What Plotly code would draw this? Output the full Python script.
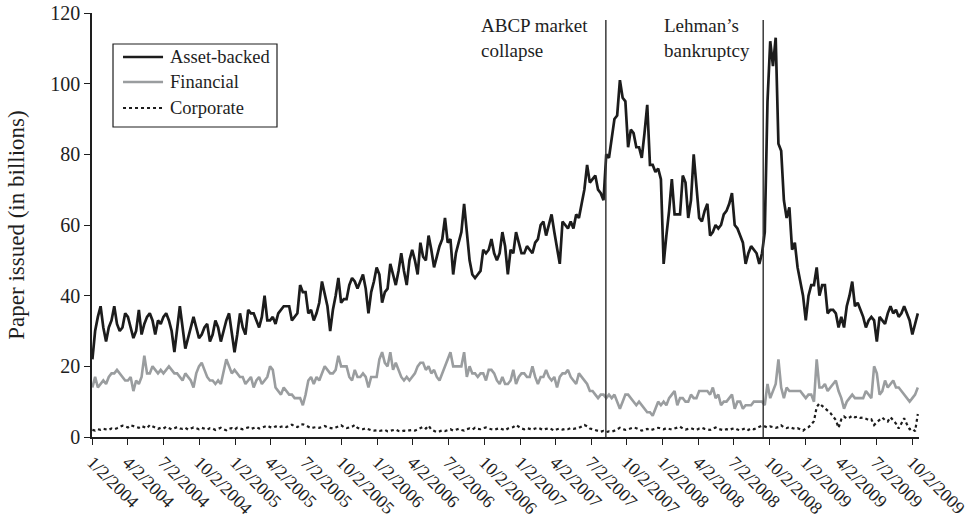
import plotly.graph_objects as go
import pandas as pd

start_date = "2004-01-02"  # weekly observations (Fridays)

asset_backed = [
    22, 30, 34, 37, 31, 27, 31, 33, 37, 32, 30, 31, 35,
    34, 31, 28, 30, 36, 29, 32, 34, 35, 33, 29, 33, 32,
    34, 35, 33, 30, 24, 30, 37, 31, 25, 28, 31, 34, 31,
    28, 29, 31, 32, 27, 29, 33, 31, 27, 30, 33, 35, 30,
    24, 29, 35, 31, 29, 36, 35, 35, 33, 31, 34, 40, 33,
    33, 34, 32, 35, 36, 37, 37, 37, 33, 34, 35, 43, 41,
    41, 35, 36, 33, 35, 38, 44, 40, 37, 30, 36, 40, 45,
    38, 39, 39, 43, 45, 44, 42, 44, 46, 42, 35, 41, 44,
    48, 46, 38, 41, 42, 49, 46, 43, 47, 52, 47, 43, 50,
    53, 50, 46, 55, 51, 50, 57, 53, 48, 51, 54, 56, 62,
    55, 56, 46, 52, 55, 58, 66, 57, 50, 46, 45, 46, 47,
    53, 52, 53, 56, 52, 50, 52, 58, 54, 46, 53, 52, 58,
    55, 52, 52, 54, 53, 52, 55, 56, 60, 61, 57, 60, 63,
    58, 54, 49, 61, 60, 59, 61, 59, 63, 62, 66, 70, 77,
    72, 73, 74, 70, 69, 67, 80, 79, 84, 90, 91, 101, 96,
    95, 82, 87, 86, 82, 82, 79, 86, 94, 77, 77, 75, 76,
    73, 49, 57, 64, 73, 63, 63, 63, 74, 72, 62, 67, 80,
    71, 62, 61, 64, 66, 57, 58, 60, 59, 60, 63, 64, 66,
    69, 60, 59, 57, 55, 49, 52, 54, 53, 52, 49, 52, 58,
    95, 112, 105, 113, 83, 81, 67, 62, 65, 53, 55, 48, 44,
    40, 33, 40, 43, 43, 48, 40, 43, 43, 35, 36, 36, 35,
    31, 34, 31, 37, 40, 44, 37, 38, 36, 34, 31, 33, 34,
    33, 27, 34, 33, 32, 35, 37, 35, 36, 34, 35, 37, 35,
    33, 29, 32, 35,
]

financial = [
    14, 17, 14, 15, 16, 15, 17, 18, 18, 19, 18, 17, 16,
    16, 17, 13, 16, 15, 17, 23, 18, 18, 20, 19, 18, 19,
    18, 19, 20, 19, 18, 18, 17, 16, 18, 17, 16, 14, 18,
    20, 21, 19, 17, 16, 16, 15, 16, 15, 19, 22, 20, 18,
    19, 18, 17, 17, 15, 16, 17, 14, 16, 17, 15, 16, 17,
    20, 19, 14, 13, 12, 14, 13, 12, 12, 11, 11, 11, 9,
    12, 16, 17, 15, 17, 16, 18, 20, 19, 18, 18, 19, 23,
    20, 20, 20, 17, 16, 19, 17, 17, 18, 17, 14, 17, 17,
    17, 22, 24, 21, 20, 24, 19, 21, 19, 17, 16, 17, 16,
    17, 18, 20, 21, 21, 19, 20, 18, 19, 17, 16, 18, 20,
    22, 24, 20, 20, 20, 20, 24, 17, 20, 18, 18, 17, 18,
    18, 16, 19, 19, 18, 16, 15, 17, 15, 15, 16, 19, 15,
    17, 18, 18, 17, 17, 20, 17, 15, 17, 17, 19, 17, 16,
    17, 14, 17, 18, 18, 19, 17, 16, 15, 18, 17, 16, 15,
    13, 13, 12, 11, 12, 12, 11, 12, 11, 12, 10, 8, 10,
    12, 12, 11, 10, 9, 10, 9, 8, 7, 7, 6, 8, 10,
    9, 10, 9, 11, 12, 13, 9, 11, 11, 10, 10, 12, 11,
    11, 13, 13, 13, 13, 12, 14, 11, 12, 9, 10, 10, 11,
    12, 8, 10, 10, 8, 9, 9, 9, 10, 10, 10, 10, 9,
    15, 11, 13, 15, 22, 14, 11, 14, 13, 13, 13, 13, 13,
    12, 11, 12, 12, 10, 22, 14, 14, 15, 13, 14, 15, 16,
    13, 11, 8, 10, 11, 12, 11, 11, 11, 11, 13, 12, 11,
    20, 18, 12, 13, 16, 14, 15, 16, 14, 14, 13, 12, 11,
    10, 11, 12, 14,
]

corporate = [
    2.0, 1.8, 2.2, 2.0, 2.3, 2.1, 2.0, 2.4, 2.2, 2.5, 2.8, 3.2, 3.0, 2.7, 3.3, 3.0, 2.8, 2.6, 3.1, 2.9, 2.5, 3.4, 3.0, 2.7, 2.3, 2.6,
    2.4, 2.9, 2.6, 2.2, 2.5, 2.8, 2.4, 2.3, 2.6, 2.1, 2.4, 2.7, 2.5, 2.2, 2.6, 2.3, 2.1, 2.5, 2.4, 2.0, 2.3, 2.6, 2.2, 1.9, 2.4, 2.5,
    2.1, 2.6, 2.4, 2.2, 2.5, 2.7, 2.3, 2.6, 2.8, 2.4, 2.6, 2.9, 3.2, 2.8, 2.6, 3.0, 2.7, 2.9, 3.1, 2.8, 3.2, 3.5, 3.0, 2.8, 3.4, 3.6,
    3.3, 2.9, 2.5, 2.7, 2.8, 2.6, 2.9, 3.1, 2.7, 2.5, 2.4, 2.7, 2.9, 3.3, 2.8, 2.5, 2.7, 2.9, 3.4, 2.6, 2.3, 2.2, 2.5, 2.1, 1.9, 1.8,
    1.9, 1.7, 1.8, 2.0, 1.6, 1.7, 1.9, 2.1, 1.7, 1.6, 1.8, 1.7, 1.9, 2.0, 1.8, 2.2, 2.6, 2.9, 2.4, 3.2, 2.1, 1.7, 1.4, 1.6, 1.9, 1.7,
    2.0, 2.2, 1.8, 2.1, 2.3, 2.0, 1.8, 2.2, 2.4, 2.1, 2.6, 2.3, 2.2, 2.5, 2.7, 2.4, 2.2, 2.0, 2.3, 2.5, 2.2, 1.9, 2.4, 2.6, 2.8, 3.4,
    2.8, 2.4, 2.2, 2.5, 2.3, 2.1, 2.4, 2.6, 2.3, 2.0, 2.3, 2.5, 2.2, 1.8, 2.2, 2.4, 2.1, 2.3, 2.2, 2.5, 2.3, 2.4, 2.6, 3.0, 3.4, 3.0,
    2.4, 2.2, 2.0, 1.6, 1.5, 1.7, 1.4, 1.6, 1.5, 1.8, 2.2, 2.6, 2.3, 2.0, 2.2, 2.4, 2.7, 2.5, 2.2, 1.8, 2.0, 2.3, 1.9, 2.1, 2.3, 2.6,
    2.4, 2.2, 2.5, 2.3, 2.1, 2.4, 2.7, 2.9, 2.4, 2.1, 2.3, 2.5, 2.2, 2.0, 2.4, 2.6, 2.3, 2.1, 2.0, 2.4, 2.7, 2.3, 2.1, 1.9, 2.2, 2.0,
    2.3, 2.5, 2.1, 1.9, 2.2, 2.5, 2.0, 2.4, 2.2, 2.6, 2.9, 3.2, 3.0, 2.7, 3.0, 2.9, 2.6, 2.8, 3.3, 2.7, 2.5, 2.8, 2.6, 2.3, 2.5, 2.2,
    1.8, 2.4, 2.8, 3.5, 4.5, 8.5, 9.5, 8.8, 8.2, 7.5, 6.8, 5.8, 4.8, 2.6, 5.0, 5.8, 5.2, 5.5, 6.0, 5.6, 5.8, 5.4, 5.5, 5.2, 4.8, 5.0,
    3.4, 4.2, 4.8, 5.5, 4.8, 4.4, 5.6, 4.6, 3.8, 2.4, 4.0, 5.3, 3.6, 2.2, 2.4, 1.6, 6.5,
]

series_names = ["Asset-backed", "Financial", "Corporate"]
series_colors = ["#1c1c1c", "#9a9d9f", "#1c1c1c"]
series_dashes = ["solid", "solid", "dot"]
series_widths = [2.7, 2.6, 2.2]

tick_dates = [
    "2004-01-02", "2004-04-02", "2004-07-02", "2004-10-02",
    "2005-01-02", "2005-04-02", "2005-07-02", "2005-10-02",
    "2006-01-02", "2006-04-02", "2006-07-02", "2006-10-02",
    "2007-01-02", "2007-04-02", "2007-07-02", "2007-10-02",
    "2008-01-02", "2008-04-02", "2008-07-02", "2008-10-02",
    "2009-01-02", "2009-04-02", "2009-07-02", "2009-10-02",
]
tick_labels = [
    "1/2/2004", "4/2/2004", "7/2/2004", "10/2/2004",
    "1/2/2005", "4/2/2005", "7/2/2005", "10/2/2005",
    "1/2/2006", "4/2/2006", "7/2/2006", "10/2/2006",
    "1/2/2007", "4/2/2007", "7/2/2007", "10/2/2007",
    "1/2/2008", "4/2/2008", "7/2/2008", "10/2/2008",
    "1/2/2009", "4/2/2009", "7/2/2009", "10/2/2009",
]

event_dates = ["2007-08-09", "2008-09-15"]
event_labels = ["ABCP market<br>collapse", "Lehman’s<br>bankruptcy"]
event_label_dates = ["2006-09-18", "2007-12-31"]

dates = pd.date_range(start_date, periods=len(asset_backed), freq="7D")

FONT = "Liberation Serif"
INK = "#1e1e1e"

fig = go.Figure()
for name, vals, col, dash, w in zip(series_names, [asset_backed, financial, corporate],
                                    series_colors, series_dashes, series_widths):
    fig.add_trace(go.Scatter(x=dates[:len(vals)], y=vals, mode="lines", name=name,
                             showlegend=False,
                             line=dict(color=col, width=w, dash=dash)))

for d in event_dates:
    fig.add_shape(type="line", x0=d, x1=d, y0=0, y1=118, xref="x", yref="y",
                  line=dict(color="#3a3a3a", width=1.5))

for d, t in zip(event_label_dates, event_labels):
    fig.add_annotation(x=d, y=120, xref="x", yref="y", text=t, showarrow=False,
                       xanchor="left", yanchor="top", align="left",
                       font=dict(family=FONT, size=19, color=INK))

# legend box (drawn in plot-area paper coordinates)
fig.add_shape(type="rect", xref="paper", yref="paper",
              x0=0.0254, x1=0.2237, y0=0.7311, y1=0.9269,
              line=dict(color=INK, width=1.2), fillcolor="white", layer="above")
legend_rows = [0.8962, 0.8373, 0.7759]
for name, col, dash, ly in zip(series_names, series_colors, series_dashes, legend_rows):
    fig.add_shape(type="line", xref="paper", yref="paper",
                  x0=0.0375, x1=0.0859, y0=ly, y1=ly, layer="above",
                  line=dict(color=col, width=2.7 if dash == "solid" else 2.2, dash=dash))
    fig.add_annotation(x=0.0919, y=ly, xref="paper", yref="paper", text=name,
                       showarrow=False, xanchor="left", yanchor="middle",
                       font=dict(family=FONT, size=18.5, color=INK))

fig.update_layout(
    width=972, height=518,
    margin=dict(l=92, r=53, t=13, b=81),
    paper_bgcolor="white", plot_bgcolor="white",
    font=dict(family=FONT, color=INK),
    showlegend=False,
)
fig.update_xaxes(
    type="date", range=["2004-01-01", "2009-10-19"],
    tickmode="array", tickvals=tick_dates, ticktext=tick_labels,
    tickangle=45, ticks="outside", ticklen=6, tickcolor=INK,
    showline=True, linecolor=INK, linewidth=1.5,
    showgrid=False, zeroline=False, automargin=False,
    ticklabeloverflow="allow",
    tickfont=dict(family=FONT, size=18, color=INK),
)
fig.update_yaxes(
    range=[0, 120], tickvals=[0, 20, 40, 60, 80, 100, 120],
    ticks="outside", ticklen=6, tickcolor=INK,
    showline=True, linecolor=INK, linewidth=1.5,
    showgrid=False, zeroline=False, automargin=False,
    ticklabeloverflow="allow",
    tickfont=dict(family=FONT, size=20, color=INK),
    title=dict(text="Paper issued (in billions)", standoff=19,
               font=dict(family=FONT, size=23, color=INK)),
)

# remove the browser's default 8px page margin so the figure fills the window exactly
fig.write_html("out.html", config={"displayModeBar": False},
               post_script="document.body.style.margin='0px';")
